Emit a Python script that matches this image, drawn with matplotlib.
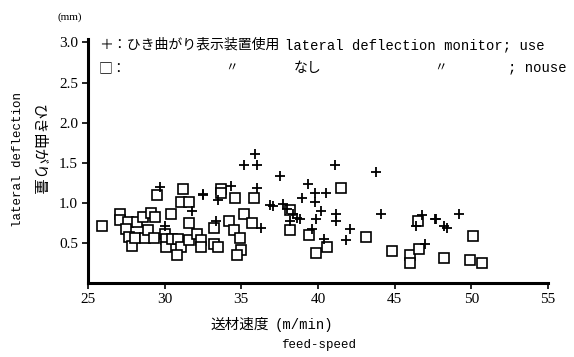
import matplotlib
matplotlib.use("Agg")
import matplotlib.pyplot as plt

plt.rcParams['font.family'] = ['Liberation Serif', 'Noto Sans CJK JP', 'DejaVu Sans']
JP = ['Noto Sans CJK JP', 'DejaVu Sans']
MONO = ['Liberation Mono', 'Noto Sans CJK JP']

# 表示装置なし (squares)
sq_x = [25.9, 27.1, 27.1, 27.6, 28.2, 27.5, 27.7, 27.85, 28.1, 28.6, 29.1, 29.35,
        28.7, 28.9, 29.3, 29.5, 30.4, 31.2, 31.1, 31.6, 30.0, 30.1, 30.1, 30.5,
        30.85, 31.1, 30.8, 31.6, 31.6, 32.1, 32.4, 32.4,
        33.7, 33.7, 34.6, 35.8, 35.2, 34.2, 33.2, 35.7, 34.5, 34.9, 35.0, 34.7,
        33.2, 33.5, 38.2, 38.2, 39.4, 39.9, 40.6, 41.5, 43.1, 44.8, 46.0, 46.0,
        46.6, 46.5, 50.1, 48.2, 49.9, 50.7]
sq_y = [0.72, 0.87, 0.79, 0.76, 0.77, 0.68, 0.58, 0.47, 0.57, 0.83, 0.88, 0.83,
        0.57, 0.66, 0.57, 1.10, 0.86, 1.17, 1.02, 1.02, 0.62, 0.55, 0.45, 0.55,
        0.55, 0.46, 0.35, 0.54, 0.75, 0.62, 0.54, 0.45,
        1.18, 1.13, 1.07, 1.06, 0.87, 0.78, 0.69, 0.75, 0.66, 0.56, 0.42, 0.36,
        0.49, 0.46, 0.67, 0.92, 0.60, 0.38, 0.45, 1.19, 0.58, 0.40, 0.36, 0.25,
        0.43, 0.78, 0.59, 0.32, 0.29, 0.26]

# 表示装置使用 (crosses)
cr_x = [29.7, 32.5, 31.8, 30.0, 35.9, 35.2, 36.0, 37.5, 32.5, 34.3, 33.5, 36.0,
        39.35, 38.96, 39.8, 39.8, 40.5, 36.9, 37.1, 37.7, 38.0, 38.35, 38.6, 38.8,
        39.9, 40.2, 38.2, 33.35, 36.3, 39.6, 40.4, 41.1, 43.8, 41.2, 41.2, 42.1,
        41.8, 44.1, 46.8, 46.4, 47.0, 47.65, 49.2, 47.7, 48.2, 48.4]
cr_y = [1.20, 1.10, 0.90, 0.71, 1.61, 1.48, 1.48, 1.34, 1.11, 1.21, 1.04, 1.19,
        1.24, 1.06, 1.12, 1.01, 1.13, 0.98, 0.96, 0.99, 0.93, 0.87, 0.82, 0.80,
        0.80, 0.90, 0.78, 0.78, 0.69, 0.68, 0.55, 1.48, 1.39, 0.87, 0.78, 0.68,
        0.54, 0.86, 0.85, 0.71, 0.49, 0.80, 0.87, 0.80, 0.72, 0.69]

x_ticks = [25, 30, 35, 40, 45, 50, 55]
y_ticks = [0.5, 1.0, 1.5, 2.0, 2.5, 3.0]

fig = plt.figure(figsize=(5.74, 3.57), dpi=100)
ax = fig.add_axes([0.153, 0.206, 0.802, 0.684])

ax.plot(sq_x, sq_y, 's', ms=6.8, mfc='white', mec='black', mew=1.2, ls='none')
ax.plot(cr_x, cr_y, '+', ms=7, mec='black', mew=1.3, ls='none')

ax.set_xlim(25, 55)
ax.set_ylim(0, 3.04)
ax.set_xticks(x_ticks)
ax.set_yticks(y_ticks)
ax.set_yticklabels([f"{v:.1f}" for v in y_ticks])

for s in ['top', 'right']:
    ax.spines[s].set_visible(False)
for s in ['left', 'bottom']:
    ax.spines[s].set_linewidth(2.2)
ax.tick_params(axis='both', direction='out', length=4, width=1.2, labelsize=11, pad=3)

# 軸ラベル
fig.text(0.031, 0.552, "lateral deflection", rotation=90, ha='center', va='center',
         fontsize=9, family=MONO)
fig.text(0.066, 0.58, "ひき曲がり量", rotation=-90, ha='center', va='center',
         fontsize=11, family=JP)
fig.text(0.122, 0.952, "(mm)", ha='center', va='center', fontsize=8)
fig.text(0.366, 0.09, "送材速度", ha='left', va='center', fontsize=10.5, family=JP)
fig.text(0.478, 0.09, "(m/min)", ha='left', va='center', fontsize=10, family=MONO)
fig.text(0.555, 0.035, "feed-speed", ha='center', va='center', fontsize=9, family=MONO)

# 凡例
fig.text(0.172, 0.874, "＋：ひき曲がり表示装置使用", ha='left', va='center',
         fontsize=10, family=JP)
fig.text(0.497, 0.874, "lateral deflection monitor; use", ha='left', va='center',
         fontsize=10, family=MONO)
fig.text(0.172, 0.81, "□：", ha='left', va='center', fontsize=10, family=JP)
fig.text(0.392, 0.81, "〃", ha='left', va='center', fontsize=9, family=JP)
fig.text(0.512, 0.81, "なし", ha='left', va='center', fontsize=10, family=JP)
fig.text(0.757, 0.81, "〃", ha='left', va='center', fontsize=9, family=JP)
fig.text(0.885, 0.81, "; nouse", ha='left', va='center', fontsize=10, family=MONO)

fig.savefig("out.png", dpi=100)
